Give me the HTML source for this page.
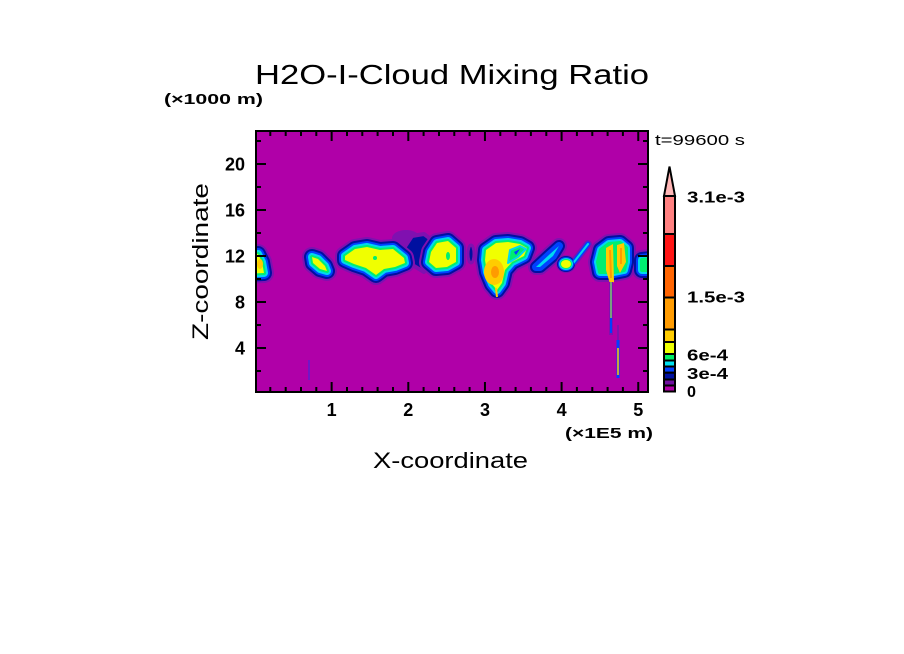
<!DOCTYPE html>
<html>
<head>
<meta charset="utf-8">
<style>
  html,body{margin:0;padding:0;background:#fff;}
  svg{display:block;}
  text{font-family:"Liberation Sans",sans-serif;fill:#000;}
</style>
</head>
<body>
<svg width="904" height="654" viewBox="0 0 904 654" xmlns="http://www.w3.org/2000/svg">
  <defs>
    <clipPath id="plot"><rect x="256" y="131" width="392" height="261"/></clipPath>
    <path id="cA" d="M240,255 L258,254 L262,262 L264,273 L240,274 Z"/>
    <path id="cB" d="M312,257 L318,259 L325,266 L327,271 L320,269 L313,263 Z"/>
    <path id="cC" d="M345,256 L355,249 L367,247 L380,250 L393,249 L404,258 L405,263 L395,267 L384,269 L376,275 L366,268 L354,264 L345,260 Z"/>
    <path id="cD" d="M431,252 L437,243 L448,241 L456,248 L456,262 L447,267 L436,268 L429,262 Z"/>
    <path id="cE" d="M486,250 L496,243 L508,242 L520,244 L527,248 L524,256 L512,262 L505,270 L502,283 L497,290 L492,284 L487,272 L485,260 Z"/>
    <path id="cF" d="M536,267 L550,254 L559,246 L553,256 L540,267 Z"/>
    <path id="cH" d="M598,262 L601,250 L609,244 L620,243 L626,248 L626,262 L624,270 L614,272 L600,272 Z"/>
    <path id="cI" d="M642,260 L660,258 L660,270 L642,270 Z"/>
  </defs>

  <!-- Title -->
  <text x="255" y="84" font-size="28" textLength="394" lengthAdjust="spacingAndGlyphs">H2O-I-Cloud Mixing Ratio</text>
  <text x="164" y="104" font-size="15" font-weight="bold" textLength="99" lengthAdjust="spacingAndGlyphs">(×1000 m)</text>
  <text x="655" y="145" font-size="15" textLength="90" lengthAdjust="spacingAndGlyphs">t=99600 s</text>

  <!-- Plot field -->
  <g clip-path="url(#plot)">
    <rect x="256" y="131" width="392" height="261" fill="#b000a8"/>

    <!-- cloud D halo and navy blob -->
    <ellipse cx="406" cy="238" rx="14" ry="8" fill="#8010b0"/>
    <path d="M404,248 L412,236 L424,234 L432,240 L428,260 L424,272 L414,266 L406,256 Z" fill="#0010a0" stroke="#8010b0" stroke-width="4" stroke-linejoin="round"/>
    <ellipse cx="471" cy="254" rx="3" ry="9" fill="#0010a0" stroke="#8010b0" stroke-width="3"/>

    <!-- ringed clouds -->
    <g stroke-linejoin="round">
      <g fill="none" stroke="#8010b0" stroke-width="20">
        <use href="#cA"/><use href="#cB"/><use href="#cC"/><use href="#cD"/><use href="#cE"/><use href="#cH"/><use href="#cI"/>
      </g>
      <g fill="none" stroke="#0010a0" stroke-width="16">
        <use href="#cA"/><use href="#cB"/><use href="#cC"/><use href="#cD"/><use href="#cE"/><use href="#cH"/><use href="#cI"/>
      </g>
      <g fill="none" stroke="#0040ff" stroke-width="12">
        <use href="#cA"/><use href="#cB"/><use href="#cC"/><use href="#cD"/><use href="#cE"/><use href="#cH"/><use href="#cI"/>
      </g>
      <g fill="none" stroke="#00d8f0" stroke-width="8">
        <use href="#cA"/><use href="#cB"/><use href="#cC"/><use href="#cD"/><use href="#cE"/><use href="#cH"/><use href="#cI"/>
      </g>
      <g fill="none" stroke="#00ee70" stroke-width="4">
        <use href="#cA"/><use href="#cB"/><use href="#cC"/><use href="#cD"/><use href="#cE"/><use href="#cH"/><use href="#cI"/>
      </g>
      <g stroke="none" fill="#f0ff00">
        <use href="#cA"/><use href="#cB"/><use href="#cC"/><use href="#cD"/><use href="#cE"/>
      </g>
      <g stroke="none" fill="#00ee70">
        <use href="#cH"/><use href="#cI"/>
      </g>

      <!-- cloud F -->
      <use href="#cF" fill="none" stroke="#8010b0" stroke-width="16"/>
      <use href="#cF" fill="none" stroke="#0010a0" stroke-width="12"/>
      <use href="#cF" fill="none" stroke="#0040ff" stroke-width="8"/>
      <use href="#cF" fill="#00d8f0" stroke="none"/>
    </g>

    <!-- E right part: blue/cyan/green -->
    <path d="M510,250 L520,246 L526,249 L518,257 L508,263 Z" fill="#00ee70" stroke="#00d8f0" stroke-width="2" stroke-linejoin="round"/>
    <path d="M514,252 L520,249 L516,255 Z" fill="#0040ff"/>

    <!-- inner details -->
    <ellipse cx="260" cy="264" rx="3" ry="5" fill="#ffcc00"/>
    <ellipse cx="494" cy="272" rx="10" ry="13" fill="#ffcc00"/>
    <ellipse cx="495" cy="272" rx="4" ry="6" fill="#ff9b00"/>
    <line x1="496" y1="288" x2="497" y2="297" stroke="#ffcc00" stroke-width="2"/>
    <ellipse cx="375" cy="258" rx="2" ry="2" fill="#00ee70"/>
    <ellipse cx="448" cy="256" rx="2" ry="4" fill="#00ee70"/>

    <!-- cloud G -->
    <ellipse cx="566" cy="264" rx="10" ry="9" fill="#8010b0"/>
    <line x1="574" y1="262" x2="588" y2="244" stroke="#8010b0" stroke-width="8" stroke-linecap="round"/>
    <ellipse cx="566" cy="264" rx="9" ry="8" fill="#0010a0"/>
    <line x1="574" y1="262" x2="588" y2="244" stroke="#0040ff" stroke-width="5" stroke-linecap="round"/>
    <line x1="574" y1="262" x2="588" y2="244" stroke="#00d8f0" stroke-width="2" stroke-linecap="round"/>
    <ellipse cx="566" cy="264" rx="8" ry="7" fill="#0040ff"/>
    <ellipse cx="566" cy="264" rx="7" ry="6" fill="#00d8f0"/>
    <ellipse cx="566" cy="264" rx="6" ry="5" fill="#00ee70"/>
    <ellipse cx="566" cy="264" rx="5" ry="4" fill="#f0ff00"/>

    <!-- cloud H columns -->
    <path d="M606,248 L613,244 L614,282 L610,284 L606,270 Z" fill="#ffcc00"/>
    <path d="M617,245 L624,243 L626,262 L620,273 L617,266 Z" fill="#ffcc00"/>
    <line x1="610" y1="250" x2="611" y2="278" stroke="#ff9b00" stroke-width="2"/>
    <line x1="621" y1="248" x2="621" y2="264" stroke="#ff9b00" stroke-width="2"/>

    <!-- streaks -->
    <line x1="611" y1="282" x2="611" y2="335" stroke="#8010b0" stroke-width="4"/>
    <line x1="611" y1="282" x2="611" y2="333" stroke="#0040ff" stroke-width="2"/>
    <line x1="611" y1="282" x2="611" y2="318" stroke="#f0ff00" stroke-width="1"/>
    <line x1="618" y1="325" x2="618" y2="378" stroke="#8010b0" stroke-width="2"/>
    <line x1="618" y1="340" x2="618" y2="378" stroke="#0040ff" stroke-width="3"/>
    <line x1="618" y1="348" x2="618" y2="375" stroke="#ffcc00" stroke-width="1.5"/>
    <line x1="309" y1="360" x2="309" y2="380" stroke="#0040ff" stroke-width="1" opacity="0.7"/>
  </g>

  <!-- Frame -->
  <rect x="256" y="131" width="392" height="261" fill="none" stroke="#000" stroke-width="2"/>
  <!-- Ticks -->
  <path stroke="#000" stroke-width="2" fill="none" d="
    M256,164 h10 M256,210 h10 M256,256 h10 M256,302 h10 M256,348 h10
    M256,141 h5 M256,187 h5 M256,233 h5 M256,279 h5 M256,325 h5 M256,371 h5
    M648,164 h-10 M648,210 h-10 M648,256 h-10 M648,302 h-10 M648,348 h-10
    M648,141 h-5 M648,187 h-5 M648,233 h-5 M648,279 h-5 M648,325 h-5 M648,371 h-5
    M331.65,392 v-10 M408.3,392 v-10 M484.95,392 v-10 M561.6,392 v-10 M638.25,392 v-10
    M331.65,131 v10 M408.3,131 v10 M484.95,131 v10 M561.6,131 v10 M638.25,131 v10
    M270.3,392 v-5 M285.7,392 v-5 M301,392 v-5 M316.3,392 v-5
    M347,392 v-5 M362.3,392 v-5 M377.6,392 v-5 M393,392 v-5
    M423.6,392 v-5 M439,392 v-5 M454.3,392 v-5 M469.6,392 v-5
    M500.3,392 v-5 M515.6,392 v-5 M530.9,392 v-5 M546.3,392 v-5
    M576.9,392 v-5 M592.3,392 v-5 M607.6,392 v-5 M622.9,392 v-5
    M270.3,131 v5 M285.7,131 v5 M301,131 v5 M316.3,131 v5
    M347,131 v5 M362.3,131 v5 M377.6,131 v5 M393,131 v5
    M423.6,131 v5 M439,131 v5 M454.3,131 v5 M469.6,131 v5
    M500.3,131 v5 M515.6,131 v5 M530.9,131 v5 M546.3,131 v5
    M576.9,131 v5 M592.3,131 v5 M607.6,131 v5 M622.9,131 v5
  "/>

  <!-- Y tick labels -->
  <g font-size="18" font-weight="bold" text-anchor="end">
    <text x="245" y="170.5">20</text>
    <text x="245" y="216.5">16</text>
    <text x="245" y="262.5">12</text>
    <text x="245" y="308.5">8</text>
    <text x="245" y="354.5">4</text>
  </g>
  <!-- X tick labels -->
  <g font-size="18" font-weight="bold" text-anchor="middle">
    <text x="331.65" y="416">1</text>
    <text x="408.3" y="416">2</text>
    <text x="484.95" y="416">3</text>
    <text x="561.6" y="416">4</text>
    <text x="638.25" y="416">5</text>
  </g>
  <text x="565" y="438" font-size="15" font-weight="bold" textLength="88" lengthAdjust="spacingAndGlyphs">(×1E5 m)</text>
  <text x="373" y="468" font-size="22" textLength="155" lengthAdjust="spacingAndGlyphs">X-coordinate</text>
  <text transform="translate(208,340) rotate(-90)" x="0" y="0" font-size="22" textLength="157" lengthAdjust="spacingAndGlyphs">Z-coordinate</text>

  <!-- Colorbar -->
  <g stroke="#000" stroke-width="2">
    <polygon points="669.5,166.5 664,196 675,196" fill="#ffb6b6" stroke-linejoin="miter"/>
    <rect x="664" y="196" width="11" height="38" fill="#ff8080"/>
    <rect x="664" y="234" width="11" height="32" fill="#ff1414"/>
    <rect x="664" y="266" width="11" height="31.5" fill="#ff6400"/>
    <rect x="664" y="297.5" width="11" height="32" fill="#ff9b00"/>
    <rect x="664" y="329.5" width="11" height="12.5" fill="#ffcc00"/>
    <rect x="664" y="342" width="11" height="12" fill="#eeff00"/>
    <rect x="664" y="354" width="11" height="6.5" fill="#00ee66"/>
    <rect x="664" y="360.5" width="11" height="6" fill="#00e0f0"/>
    <rect x="664" y="366.5" width="11" height="6.2" fill="#0040ff"/>
    <rect x="664" y="372.7" width="11" height="6.8" fill="#0010a0"/>
    <rect x="664" y="379.5" width="11" height="6" fill="#7010a0"/>
    <rect x="664" y="385.5" width="11" height="6" fill="#b000a8"/>
  </g>
  <g font-size="16" font-weight="bold">
    <text x="687" y="202.5" textLength="58" lengthAdjust="spacingAndGlyphs">3.1e-3</text>
    <text x="687" y="302.5" textLength="58" lengthAdjust="spacingAndGlyphs">1.5e-3</text>
    <text x="687" y="360.5" textLength="41" lengthAdjust="spacingAndGlyphs">6e-4</text>
    <text x="687" y="379" textLength="41" lengthAdjust="spacingAndGlyphs">3e-4</text>
    <text x="687" y="397" textLength="9" lengthAdjust="spacingAndGlyphs">0</text>
  </g>
</svg>
</body>
</html>
